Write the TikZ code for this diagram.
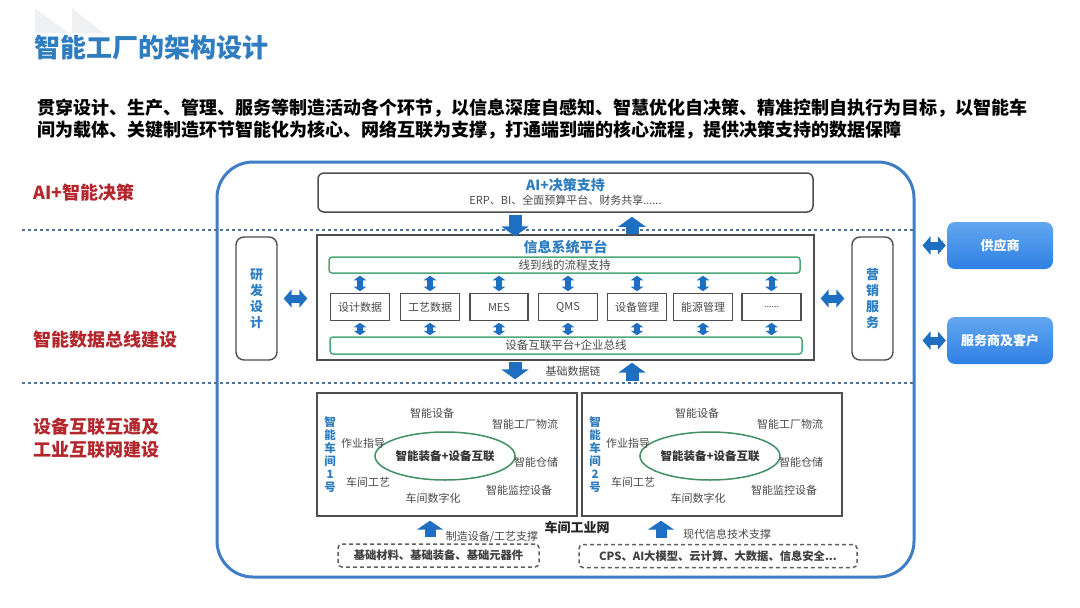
\documentclass[tikz,border=0pt]{standalone}
\usepackage{fontspec}
\setmainfont{Noto Sans CJK SC}
\usetikzlibrary{arrows.meta,shapes.geometric,calc}
\definecolor{tblue}{HTML}{2E7DC0}
\definecolor{oblue}{HTML}{3F7EC6}
\definecolor{ablue}{HTML}{1E6FC2}
\definecolor{dred}{HTML}{B3262C}
\definecolor{dotc}{HTML}{4D7398}
\definecolor{gbord}{HTML}{4CA874}
\definecolor{gtext}{HTML}{4A4A4A}
\definecolor{bord}{HTML}{4E4E4E}
\definecolor{lblue}{HTML}{62A6F0}
\definecolor{rblue}{HTML}{2F80E4}
\definecolor{chev}{HTML}{EEF0F2}
\newcommand{\myfs}[2]{\fontsize{#1}{#2}\selectfont}
\tikzset{
  dotline/.style={dotc, line width=2.6pt, dash pattern=on 2.6pt off 3.4pt},
  redlbl/.style={dred, font=\myfs{18}{23}\bfseries, anchor=west, align=left, inner sep=0},
  frame/.style={draw=bord, line width=1.4pt, inner sep=0},
  rframe/.style={frame, rounded corners=6pt},
  gbar/.style={draw=gbord, line width=1.5pt, rounded corners=3pt, inner sep=0, text=gtext, font=\myfs{11.5}{12}},
  modbox/.style={frame, line width=1.6pt, minimum height=27pt, text=gtext, font=\myfs{11}{12}},
  vtext/.style={tblue, font=\myfs{13}{16}\bfseries, align=center, inner sep=0},
  svtext/.style={tblue, font=\myfs{11.5}{13}\bfseries, align=center, inner sep=0},
  bluetitle/.style={tblue, font=\myfs{14}{15}\bfseries, inner sep=0},
  wl/.style={gtext, font=\myfs{11}{12}, inner sep=0},
  ellbox/.style={ellipse, draw=gbord!85!black, line width=1.5pt, minimum width=123pt, minimum height=48pt, inner sep=0, font=\myfs{11.5}{12}\bfseries, text=black!80},
  wsbox/.style={draw=bord, line width=1.4pt, minimum width=260pt, minimum height=123pt, inner sep=0},
  dbox/.style={draw=bord!90, line width=1.5pt, dash pattern=on 4pt off 3pt, rounded corners=4pt, inner sep=0, minimum height=23pt, font=\myfs{11.3}{12}\bfseries, text=black!75},
  partner/.style={rounded corners=8pt, shading=axis, left color=lblue, right color=rblue, shading angle=0, minimum width=106pt, minimum height=47pt, text=white, font=\myfs{13}{14}\bfseries, inner sep=0},
  bigarr/.style={ablue, line width=13pt, -{Triangle[width=27pt,length=10pt]}},
  midarr/.style={ablue, line width=11pt, -{Triangle[width=26pt,length=9pt]}},
  vdbl/.style={ablue, line width=6pt, {Triangle[width=12.5pt,length=4.5pt]}-{Triangle[width=12.5pt,length=4.5pt]}},
  hdbl/.style={ablue, line width=8pt, {Triangle[width=18pt,length=8pt]}-{Triangle[width=18pt,length=8pt]}},
}
\newcommand{\wsContent}[2]{%
  \node[wsbox] (#1) at (447,454.5) {};
  \node[svtext] (#1v) at (330,455) {智\\能\\车\\间\\#2\\号};
  \node[ellbox] (#1e) at (445,456) {智能装备+设备互联};
  \node[wl] (#1a) at (432,413) {智能设备};
  \node[wl] (#1b) at (525,424) {智能工厂物流};
  \node[wl] (#1c) at (363,443) {作业指导};
  \node[wl] (#1d) at (536,462) {智能仓储};
  \node[wl] (#1f) at (368,482) {车间工艺};
  \node[wl] (#1g) at (519,490) {智能监控设备};
  \node[wl] (#1h) at (433,498) {车间数字化};
}
\begin{document}
\begin{tikzpicture}[x=1pt,y=-1pt]
\useasboundingbox[fill=white] (0,0) rectangle (1080,608);
% decorative chevrons
\fill[chev] (35,8) -- (68,33) -- (35,33) -- cycle;
\fill[chev] (72,8) -- (103,33) -- (72,33) -- cycle;
% title and lead text
\node[tblue, font=\myfs{26}{28}\bfseries, anchor=west, inner sep=0] (title) at (34,48) {智能工厂的架构设计};
\node[font=\myfs{18}{20}\bfseries, anchor=west, inner sep=0] (lead1) at (37,108) {贯穿设计、生产、管理、服务等制造活动各个环节，以信息深度自感知、智慧优化自决策、精准控制自执行为目标，以智能车};
\node[font=\myfs{18}{20}\bfseries, anchor=west, inner sep=0] (lead2) at (37,130) {间为载体、关键制造环节智能化为核心、网络互联为支撑，打通端到端的核心流程，提供决策支持的数据保障};
% outer frame
\node[draw=oblue, line width=3pt, rounded corners=36pt, minimum width=697pt, minimum height=415pt, inner sep=0] (outer) at (565.5,369.5) {};
% layer separators
\coordinate (d1a) at (22,230);
\coordinate (d2a) at (22,383);
\draw[dotline] (d1a) -- (d1a -| outer.east);
\draw[dotline] (d2a) -- (d2a -| outer.east);
% layer labels
\node[redlbl] (l1) at (33,193) {AI+智能决策};
\node[redlbl] (l2) at (33,340) {智能数据总线建设};
\node[redlbl] (l3) at (33,438) {设备互联互通及\\工业互联网建设};
% AI decision box
\node[rframe, line width=1.5pt, minimum width=495pt, minimum height=39pt] (ai) at (565.5,192.5) {};
\node[bluetitle] (aititle) at (565.5,185) {AI+决策支持};
\node[gtext, font=\myfs{11}{12}, inner sep=0] (aisub) at (565.5,200.5) {ERP、BI、全面预算平台、财务共享......};
% information platform
\node[frame, minimum width=497pt, minimum height=125pt] (plat) at (565.5,297.5) {};
\node[bluetitle] (plattitle) at (565.5,247) {信息系统平台};
\node[gbar, minimum width=471pt, minimum height=16pt] (bar1) at (564.5,265) {线到线的流程支持};
\node[gbar, minimum width=472pt, minimum height=17pt] (bar2) at (566,345.5) {设备互联平台+企业总线};
\node[modbox, minimum width=59pt] (m1) at (360,307) {设计数据};
\node[modbox, minimum width=59pt] (m2) at (430,307) {工艺数据};
\node[modbox, minimum width=58pt] (m3) at (499,307) {MES};
\node[modbox, minimum width=59pt] (m4) at (568,307) {QMS};
\node[modbox, minimum width=59pt] (m5) at (637,307) {设备管理};
\node[modbox, minimum width=59pt] (m6) at (703,307) {能源管理};
\node[modbox, minimum width=59pt, font=\myfs{9}{10}] (m7) at (771.5,307) {......};
\foreach \m in {m1,m2,m3,m4,m5,m6,m7}{
  \draw[vdbl, shorten <=1.5pt, shorten >=2pt] (\m.north) -- (bar1.south -| \m.north);
  \draw[vdbl, shorten <=1.5pt, shorten >=1pt] (\m.south) -- (bar2.north -| \m.south);
}
% side boxes
\node[frame, rounded corners=8pt, minimum width=41pt, minimum height=123pt] (rd) at (256.5,298.5) {};
\node[vtext] (rdt) at (256.5,299) {研\\发\\设\\计};
\node[frame, rounded corners=8pt, minimum width=41pt, minimum height=123pt] (mk) at (872.5,298.5) {};
\node[vtext] (mkt) at (872.5,299) {营\\销\\服\\务};
\draw[hdbl, shorten <=6pt, shorten >=9pt] (rd.east) -- (rd.east -| plat.west);
\draw[hdbl, shorten <=6pt, shorten >=7pt] (mk.west -| plat.east) -- (mk.west);
% arrows AI <-> platform
\draw[bigarr, shorten <=2pt, shorten >=-2pt] ([xshift=-50.5pt]ai.south) -- ([xshift=-50.5pt]plat.north);
\draw[bigarr, shorten >=4pt] ([xshift=66.5pt]plat.north) -- ([xshift=66.5pt]ai.south);
% partners
\node[partner] (sup) at (1000,245.5) {供应商};
\node[partner] (cus) at (1000,340.5) {服务商及客户};
\draw[hdbl, shorten <=7pt, shorten >=1pt] (sup.west -| outer.east) -- (sup.west);
\draw[hdbl, shorten <=7pt, shorten >=1pt] (cus.west -| outer.east) -- (cus.west);
% workshops
\wsContent{wsa}{1}
\begin{scope}[xshift=265pt]
\wsContent{wsb}{2}
\end{scope}
% basic data chain
\draw[bigarr, shorten <=1pt, shorten >=13pt] ([xshift=-50.5pt]plat.south) -- ([xshift=-50.5pt]plat.south |- wsa.north);
\draw[bigarr, shorten <=11pt, shorten >=2pt] ([xshift=66.5pt]plat.south |- wsa.north) -- ([xshift=66.5pt]plat.south);
\node[gtext, font=\myfs{11}{12}, inner sep=0] (chain) at (573,371) {基础数据链};
% bottom support
\node[dbox, minimum width=201pt] (db1) at (438.5,555.5) {基础材料、基础装备、基础元器件};
\node[dbox, minimum width=278pt] (db2) at (718,556) {CPS、AI大模型、云计算、大数据、信息安全...};
\draw[midarr, shorten <=6pt, shorten >=4pt] ([xshift=-8.5pt]db1.north) -- ([xshift=-8.5pt]db1.north |- wsa.south);
\draw[midarr, shorten <=6pt, shorten >=4pt] ([xshift=-57pt]db2.north) -- ([xshift=-57pt]db2.north |- wsb.south);
\node[gtext, font=\myfs{11}{12}, inner sep=0] (s1) at (492,537) {制造设备/工艺支撑};
\node[gtext, font=\myfs{11}{12}, inner sep=0] (s2) at (727,534) {现代信息技术支撑};
\node[black!85, font=\myfs{13}{14}\bfseries, inner sep=0] (net) at (577,527) {车间工业网};
\end{tikzpicture}
\end{document}
